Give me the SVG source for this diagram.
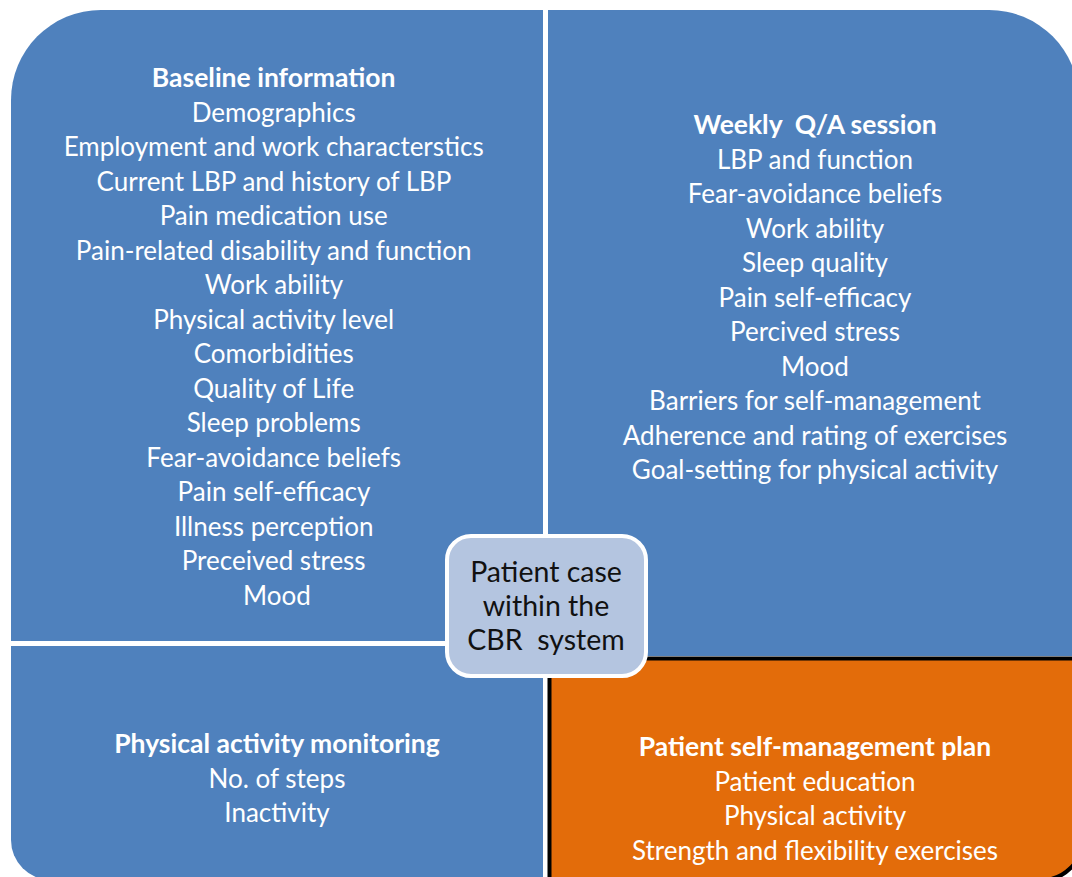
<svg xmlns="http://www.w3.org/2000/svg" width="1072" height="877" viewBox="0 0 1072 877">
<style>
.q{fill:#4f81bd}
.t{font-family:Lato,"Open Sans","Liberation Sans",sans-serif;font-size:26px;fill:#ffffff;text-anchor:middle;white-space:pre}
.b{font-weight:bold;font-size:26.5px}
.c{font-family:Lato,"Open Sans","Liberation Sans",sans-serif;font-size:28.5px;fill:#111111;text-anchor:middle;white-space:pre}
</style>
<rect width="1072" height="877" fill="#ffffff"/>
<g id="baseline">
<path class="q" d="M11,100 A90,90 0 0 1 101,10 L543,10 L543,641 L11,641 Z"/>
<text class="t" x="277" y="87"><tspan class="b">Baseline information</tspan>
<tspan x="277" dy="34.5">Demographics</tspan>
<tspan x="277" dy="34.5">Employment and work characterstics</tspan>
<tspan x="277" dy="34.5">Current LBP and history of LBP</tspan>
<tspan x="277" dy="34.5">Pain medication use</tspan>
<tspan x="277" dy="34.5">Pain-related disability and function</tspan>
<tspan x="277" dy="34.5">Work ability</tspan>
<tspan x="277" dy="34.5">Physical activity level</tspan>
<tspan x="277" dy="34.5">Comorbidities</tspan>
<tspan x="277" dy="34.5">Quality of Life</tspan>
<tspan x="277" dy="34.5">Sleep problems</tspan>
<tspan x="277" dy="34.5">Fear-avoidance beliefs</tspan>
<tspan x="277" dy="34.5">Pain self-efficacy</tspan>
<tspan x="277" dy="34.5">Illness perception</tspan>
<tspan x="277" dy="34.5">Preceived stress</tspan>
<tspan x="277" dy="34.5">Mood</tspan></text>
</g>
<g id="weekly">
<path class="q" d="M548,10 L989,10 A90,90 0 0 1 1079,100 L1079,656 L548,656 Z"/>
<text class="t" x="815" y="134"><tspan class="b">Weekly  Q/A session</tspan><tspan x="815" dy="34.5">LBP and function</tspan><tspan x="815" dy="34.5">Fear-avoidance beliefs</tspan><tspan x="815" dy="34.5">Work ability</tspan><tspan x="815" dy="34.5">Sleep quality</tspan><tspan x="815" dy="34.5">Pain self-efficacy</tspan><tspan x="815" dy="34.5">Percived stress</tspan><tspan x="815" dy="34.5">Mood</tspan><tspan x="815" dy="34.5">Barriers for self-management</tspan><tspan x="815" dy="34.5">Adherence and rating of exercises</tspan><tspan x="815" dy="34.5">Goal-setting for physical activity</tspan></text>
</g>
<g id="monitoring">
<path class="q" d="M11,646 L543,646 L543,880 L51,880 A40,40 0 0 1 11,840 Z"/>
<text class="t" x="277" y="753"><tspan class="b">Physical activity monitoring</tspan><tspan x="277" dy="34.5">No. of steps</tspan><tspan x="277" dy="34.5">Inactivity</tspan></text>
</g>
<g id="plan">
<path d="M549.5,658.5 L1082,658.5 L1082,840 A40,40 0 0 1 1042,880 L549.5,880 Z" fill="#e36c0a" stroke="#000000" stroke-width="4"/>
<text class="t" x="815" y="756"><tspan class="b">Patient self-management plan</tspan><tspan x="815" dy="34.5">Patient education</tspan><tspan x="815" dy="34.5">Physical activity</tspan><tspan x="815" dy="34.5">Strength and flexibility exercises</tspan></text>
</g>
<g id="center">
<rect x="447" y="536" width="199" height="140" rx="24" fill="#b4c5e0" stroke="#ffffff" stroke-width="4"/>
<text class="c" x="546" y="582">Patient case<tspan x="546" dy="34">within the</tspan><tspan x="546" dy="34">CBR  system</tspan></text>
</g>
<g id="connectors"></g>
</svg>
